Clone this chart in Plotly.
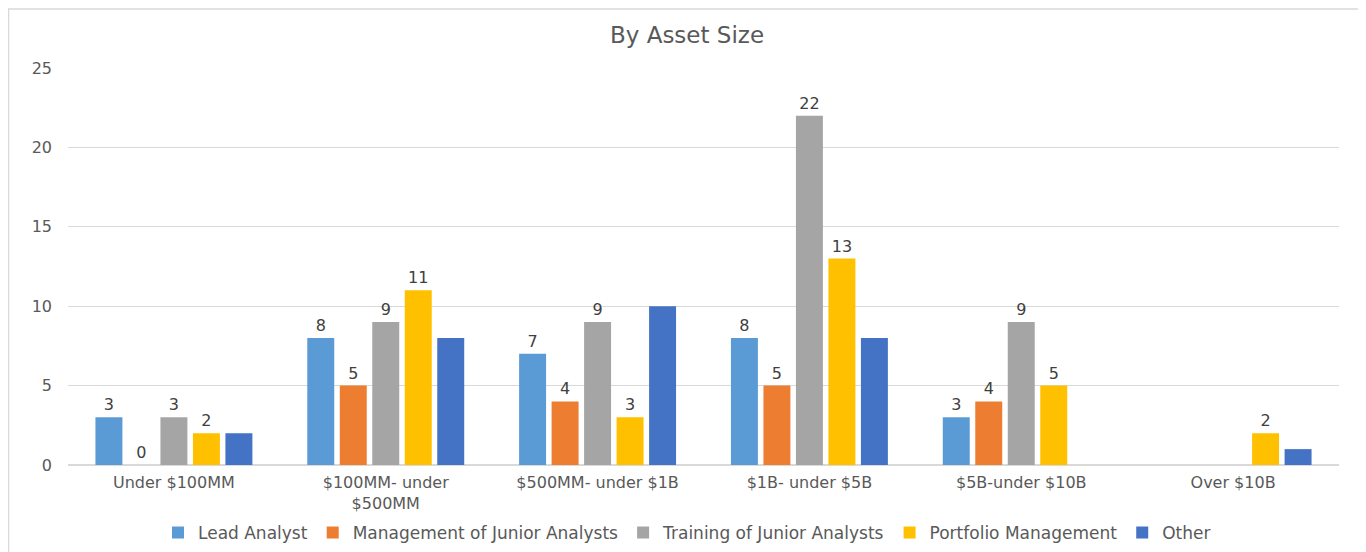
import plotly.graph_objects as go

# categories and series
categories = ["Under $100MM", "$100MM- under<br>$500MM", "$500MM- under $1B",
              "$1B- under $5B", "$5B-under $10B", "Over $10B"]

lead_analyst = [3, 8, 7, 8, 3, None]
mgmt_junior = [0, 5, 4, 5, 4, None]
training_junior = [3, 9, 9, 22, 9, None]
portfolio_mgmt = [2, 11, 3, 13, 5, 2]
other = [2, 8, 10, 8, None, 1]

series = [
    ("Lead Analyst", lead_analyst, "#5B9BD5", True),
    ("Management of Junior Analysts", mgmt_junior, "#ED7D31", True),
    ("Training of Junior Analysts", training_junior, "#A5A5A5", True),
    ("Portfolio Management", portfolio_mgmt, "#FFC000", True),
    ("Other", other, "#4472C4", False),
]

font_name = "DejaVu Sans"
grey = "#595959"

fig = go.Figure()
for name, vals, color, labels in series:
    fig.add_trace(go.Bar(
        x=categories, y=vals, name=name,
        marker=dict(color=color, line=dict(width=0)),
        text=[("" if v is None else str(v)) for v in vals] if labels else None,
        textposition="outside",
        cliponaxis=False,
        textfont=dict(family=font_name, size=16, color="#404040"),
    ))

# the page body adds 8px on the left and top, so the figure is 8px smaller
fig.update_layout(
    width=1358, height=544,
    margin=dict(l=60, r=27, t=60, b=87),
    paper_bgcolor="white", plot_bgcolor="white",
    barmode="group", bargap=0.233, bargroupgap=0.17,
    title=dict(text="By Asset Size", x=0.5, xanchor="center", xref="container",
               y=0.95, yanchor="middle", yref="container",
               font=dict(family=font_name, size=23, color=grey)),
    font=dict(family=font_name, color=grey),
    legend=dict(orientation="h", x=0.5, xanchor="center", xref="container",
                y=0.035, yanchor="middle", yref="container",
                font=dict(family=font_name, size=17, color=grey),
                itemwidth=30, traceorder="normal"),
    showlegend=True,
)

fig.update_yaxes(range=[0, 25], dtick=5, showgrid=True, gridcolor="#D9D9D9", gridwidth=1,
                 zeroline=True, zerolinecolor="#D9D9D9", showline=False,
                 ticks="", ticklabelstandoff=15, automargin=False,
                 tickfont=dict(family=font_name, size=16, color=grey))
fig.update_xaxes(showline=True, linecolor="#D9D9D9", ticks="", showgrid=False,
                 ticklabelstandoff=3, automargin=False,
                 tickfont=dict(family=font_name, size=16, color=grey))

# light outer chart border
fig.add_shape(type="rect", xref="paper", yref="paper",
              x0=-0.0468, x1=1.0205, y0=-0.25, y1=1.1486,
              line=dict(color="#D9D9D9", width=1.5), fillcolor="rgba(0,0,0,0)", layer="below")

fig.write_html("out.html")
